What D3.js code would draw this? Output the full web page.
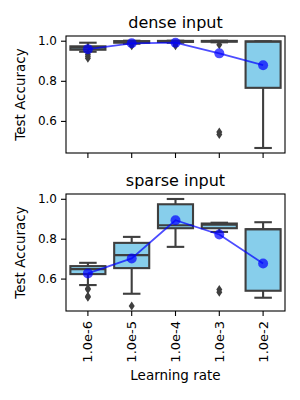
<!DOCTYPE html>
<html>
<head>
<meta charset="utf-8">
<script src="https://cdn.jsdelivr.net/npm/d3@7"></script>
<style>
  html, body { margin: 0; padding: 0; background: #fff; }
  svg { display: block; font-family: "DejaVu Sans", sans-serif; }
</style>
</head>
<body>
<svg id="chart" width="300" height="400"></svg>
<script>
// ---- data ----
const categories = ["1.0e-6", "1.0e-5", "1.0e-4", "1.0e-3", "1.0e-2"];
const yTicks = [0.6, 0.8, 1.0];

// dense input box stats
const denseWhiskerLow  = [0.945, 0.985, 0.99, 0.992, 0.465];
const denseQ1          = [0.955, 0.99, 0.994, 0.995, 0.765];
const denseMedian      = [0.965, 0.995, 0.997, 0.998, 0.995];
const denseQ3          = [0.972, 0.998, 0.999, 0.999, 0.997];
const denseWhiskerHigh = [0.99, 1.0, 1.0, 1.0, 0.997];
const denseOutliers    = [[0.932, 0.922, 0.912], [0.975], [0.982, 0.975], [0.98, 0.545, 0.532], []];
const denseMean        = [0.958, 0.987, 0.99, 0.937, 0.878];

// sparse input box stats
const sparseWhiskerLow  = [0.5675, 0.524, 0.759, 0.834, 0.504];
const sparseQ1          = [0.6225, 0.6525, 0.8525, 0.8525, 0.539];
const sparseMedian      = [0.6475, 0.7175, 0.8675, 0.870, 0.8475];
const sparseQ3          = [0.6625, 0.779, 0.9725, 0.876, 0.8475];
const sparseWhiskerHigh = [0.679, 0.809, 0.999, 0.880, 0.8825];
const sparseOutliers    = [[0.55, 0.545, 0.512, 0.506], [0.4625], [], [0.545, 0.532], []];
const sparseMean        = [0.626, 0.701, 0.8925, 0.821, 0.676];

const panels = [
  { title: "dense input", top: 36, bottom: 153, domain: [0.44, 1.0235],
    wl: denseWhiskerLow, q1: denseQ1, med: denseMedian, q3: denseQ3, wh: denseWhiskerHigh,
    out: denseOutliers, mean: denseMean, showX: false },
  { title: "sparse input", top: 194, bottom: 311, domain: [0.4375, 1.024],
    wl: sparseWhiskerLow, q1: sparseQ1, med: sparseMedian, q3: sparseQ3, wh: sparseWhiskerHigh,
    out: sparseOutliers, mean: sparseMean, showX: true }
];

const svg = d3.select("#chart");
const left = 66, right = 285;
const boxColor = "#87CEEB";
const lineColor = "#3f3f3f";
const lw = 2.1;

const x = d3.scaleBand().domain(categories).range([left, right]).paddingInner(0).paddingOuter(0);
const bw = x.bandwidth() * 0.8;

panels.forEach(p => {
  const y = d3.scaleLinear().domain(p.domain).range([p.bottom, p.top]);
  const g = svg.append("g");
  const cx = c => x(c) + x.bandwidth() / 2;

  categories.forEach((c, i) => {
    const xc = cx(c);
    g.append("line").attr("x1", xc).attr("x2", xc).attr("y1", y(p.wl[i])).attr("y2", y(p.q1[i]))
      .attr("stroke", lineColor).attr("stroke-width", lw);
    g.append("line").attr("x1", xc).attr("x2", xc).attr("y1", y(p.q3[i])).attr("y2", y(p.wh[i]))
      .attr("stroke", lineColor).attr("stroke-width", lw);
    [p.wl[i], p.wh[i]].forEach(v => {
      g.append("line").attr("x1", xc - bw / 4).attr("x2", xc + bw / 4).attr("y1", y(v)).attr("y2", y(v))
        .attr("stroke", lineColor).attr("stroke-width", lw);
    });
    g.append("rect").attr("x", xc - bw / 2).attr("width", bw)
      .attr("y", y(p.q3[i])).attr("height", Math.max(0.01, y(p.q1[i]) - y(p.q3[i])))
      .attr("fill", boxColor).attr("stroke", lineColor).attr("stroke-width", lw);
    g.append("line").attr("x1", xc - bw / 2).attr("x2", xc + bw / 2).attr("y1", y(p.med[i])).attr("y2", y(p.med[i]))
      .attr("stroke", lineColor).attr("stroke-width", lw);
    p.out[i].forEach(v => {
      const yy = y(v);
      g.append("path").attr("d", `M${xc},${yy - 4.5}L${xc + 3},${yy}L${xc},${yy + 4.5}L${xc - 3},${yy}Z`)
        .attr("fill", lineColor);
    });
  });

  const line = d3.line().x((d, i) => cx(categories[i])).y(d => y(d));
  g.append("path").attr("d", line(p.mean)).attr("fill", "none")
    .attr("stroke", "blue").attr("stroke-opacity", 0.7).attr("stroke-width", 1.8);
  p.mean.forEach((v, i) => {
    g.append("circle").attr("cx", cx(categories[i])).attr("cy", y(v)).attr("r", 5)
      .attr("fill", "blue").attr("fill-opacity", 0.7);
  });

  g.append("rect").attr("x", left).attr("y", p.top).attr("width", right - left).attr("height", p.bottom - p.top)
    .attr("fill", "none").attr("stroke", "#000").attr("stroke-width", 1.1);

  const ya = d3.axisLeft(y).tickValues(yTicks).tickFormat(d3.format(".1f")).tickSize(5).tickPadding(4);
  const yg = svg.append("g").attr("transform", `translate(${left},0)`).call(ya);
  yg.select(".domain").remove();
  yg.selectAll("line").attr("stroke", "#000").attr("stroke-width", 1.1);
  yg.selectAll("text").attr("font-size", 12).attr("font-family", "DejaVu Sans").attr("fill", "#000");

  const xa = d3.axisBottom(x).tickSize(5).tickPadding(4);
  const xg = svg.append("g").attr("transform", `translate(0,${p.bottom})`).call(xa);
  xg.select(".domain").remove();
  xg.selectAll("line").attr("stroke", "#000").attr("stroke-width", 1.1);
  if (p.showX) {
    xg.selectAll("text").attr("font-size", 13).attr("font-family", "DejaVu Sans").attr("fill", "#000")
      .attr("transform", "rotate(-90)").attr("text-anchor", "end")
      .attr("x", -10).attr("y", 0).attr("dy", "0.35em");
  } else {
    xg.selectAll("text").remove();
  }

  svg.append("text").attr("x", (left + right) / 2).attr("y", p.top - 8.5)
    .attr("text-anchor", "middle").attr("font-size", 16).attr("fill", "#000").text(p.title);

  svg.append("text").attr("transform", `translate(25,${(p.top + p.bottom) / 2}) rotate(-90)`)
    .attr("text-anchor", "middle").attr("font-size", 13.5).attr("fill", "#000").text("Test Accuracy");
});

svg.append("text").attr("x", (left + right) / 2).attr("y", 380)
  .attr("text-anchor", "middle").attr("font-size", 13.5).attr("fill", "#000").text("Learning rate");
</script>
</body>
</html>
